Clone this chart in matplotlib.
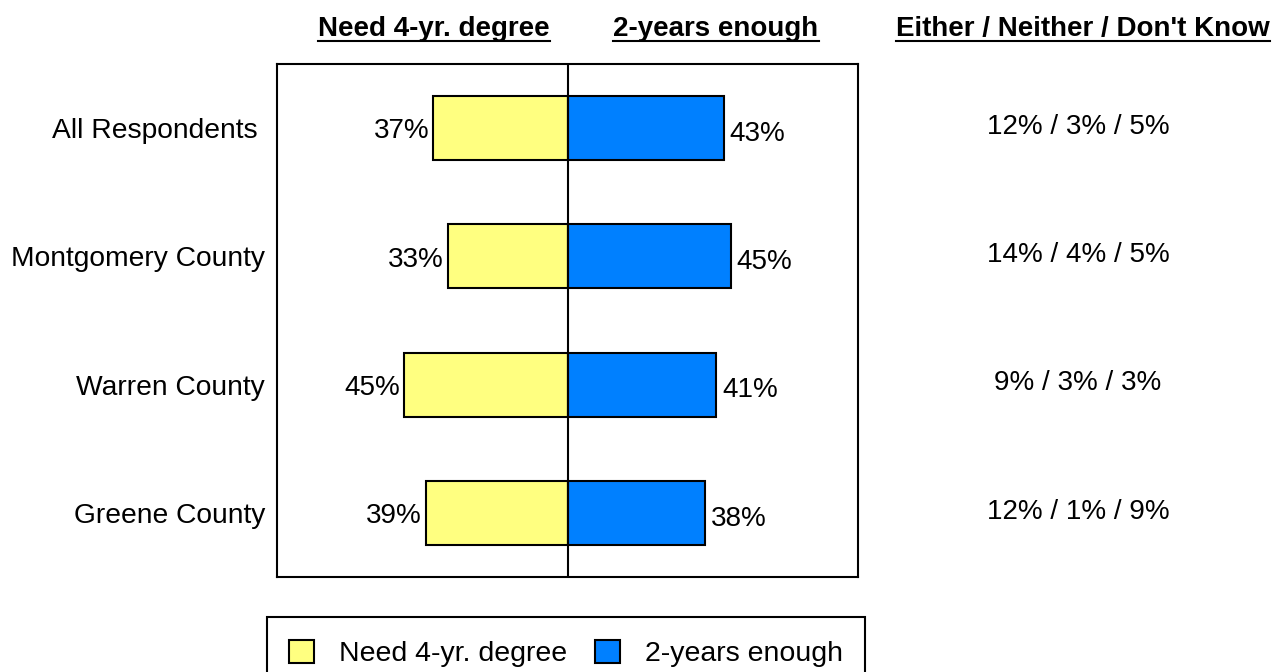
import matplotlib
matplotlib.use("Agg")
import matplotlib.pyplot as plt
from matplotlib.lines import Line2D
from matplotlib.patches import Patch
from matplotlib import font_manager

categories = ["All Respondents ", "Montgomery County", "Warren County", "Greene County"]
need_4yr = [37, 33, 45, 39]
two_years = [43, 45, 41, 38]
other_labels = ["12% / 3% / 5%", "14% / 4% / 5%", "9% / 3% / 3%", "12% / 1% / 9%"]
series_names = ["Need 4-yr. degree", "2-years enough"]
other_header = "Either / Neither / Don't Know"

YELLOW = "#FFFF80"
BLUE = "#0080FF"

names = {f.name for f in font_manager.fontManager.ttflist}
narrow = "Liberation Sans Narrow" if "Liberation Sans Narrow" in names else "Liberation Sans"
plt.rcParams["font.family"] = ["Liberation Sans", "DejaVu Sans"]

W, H = 1279, 672
fig = plt.figure(figsize=(W / 100, H / 100), dpi=100)
ax = fig.add_axes([277 / W, 1 - 577 / H, 581 / W, 513 / H])

y = list(range(len(categories)))
ax.barh(y, [-v for v in need_4yr], height=0.5, color=YELLOW, edgecolor="black", linewidth=1.5, zorder=2)
ax.barh(y, two_years, height=0.5, color=BLUE, edgecolor="black", linewidth=1.5, zorder=2)
ax.axvline(0, color="black", linewidth=1.5, zorder=3)
ax.set_xlim(-80, 80)
ax.set_ylim(len(categories) - 0.5, -0.5)
ax.set_xticks([])
ax.set_yticks(y)
ax.set_yticklabels(categories, fontsize=20.3)
ax.tick_params(axis="y", length=0, pad=8.5)
for s in ax.spines.values():
    s.set_linewidth(1.5)
    s.set_color("black")

for i, (a, b) in enumerate(zip(need_4yr, two_years)):
    ax.text(-a - 1.1, i + 0.08, f"{a}%", ha="right", va="baseline", fontsize=20)
    ax.text(b + 1.6, i + 0.10, f"{b}%", ha="left", va="baseline", fontsize=20)

# right column
for i, lab in enumerate(other_labels):
    yy = ax.transData.transform((0, i))[1]
    fig.text(1078 / W, yy / H + 0.002, lab, ha="center", va="center", fontsize=20)

headers = [
    (434, series_names[0]),
    (716, series_names[1]),
    (1083, other_header),
]
htexts = []
for x, t in headers:
    ht = fig.text(x / W, 1 - 29 / H, t, ha="center", va="center", fontsize=20,
                  fontweight="bold", family=narrow)
    htexts.append(ht)

handles = [Patch(facecolor=YELLOW, edgecolor="black", linewidth=1.5),
           Patch(facecolor=BLUE, edgecolor="black", linewidth=1.5)]
leg = fig.legend(handles, series_names, loc="upper center", ncol=2,
                 bbox_to_anchor=(566 / W, 1 - 617 / H), fontsize=20.5, frameon=True,
                 fancybox=False, edgecolor="black", framealpha=1, borderpad=0.8,
                 borderaxespad=0, handlelength=0.88, handleheight=0.88, handletextpad=0.88,
                 columnspacing=0.95)
leg.get_frame().set_linewidth(1.5)

fig.canvas.draw()
r = fig.canvas.get_renderer()
for ht in htexts:
    bb = ht.get_window_extent(r)
    yl = bb.y0 + 1
    fig.add_artist(Line2D([bb.x0 / W, bb.x1 / W], [yl / H, yl / H], color="black",
                          linewidth=1.5, transform=fig.transFigure))

fig.savefig("out.png", dpi=100)
